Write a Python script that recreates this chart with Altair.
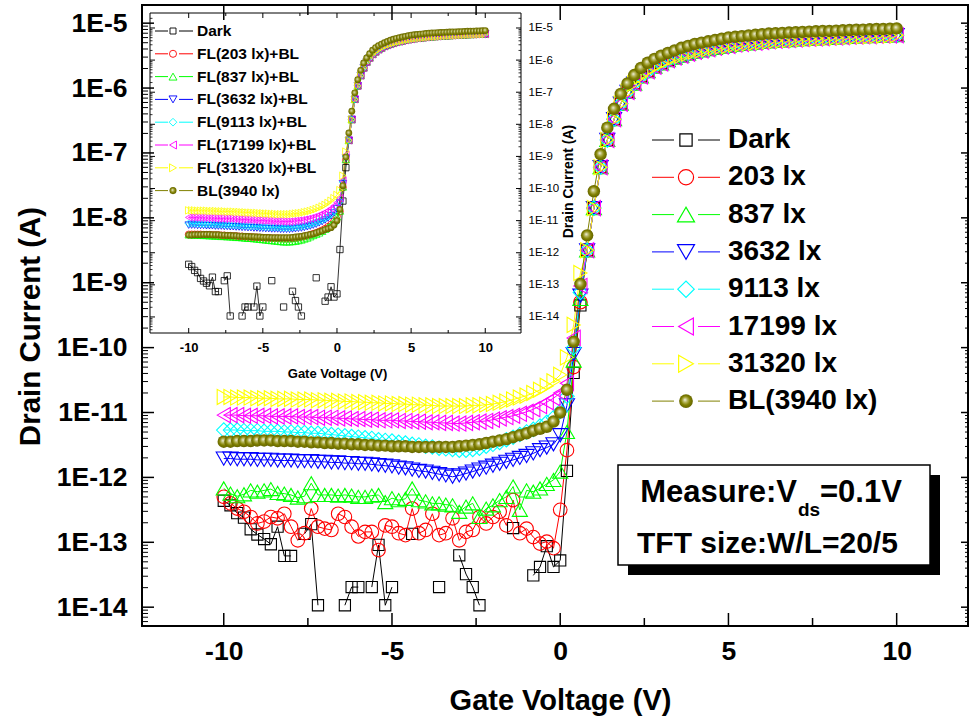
import altair as alt
import pandas as pd

# ---------------- data (log10 of drain current in A) ----------------
gate_v = [-10.0, -9.8, -9.6, -9.4, -9.2, -9.0, -8.8, -8.6, -8.4, -8.2,
          -8.0, -7.8, -7.6, -7.4, -7.2, -7.0, -6.8, -6.6, -6.4, -6.2,
          -6.0, -5.8, -5.6, -5.4, -5.2, -5.0, -4.8, -4.6, -4.4, -4.2,
          -4.0, -3.8, -3.6, -3.4, -3.2, -3.0, -2.8, -2.6, -2.4, -2.2,
          -2.0, -1.8, -1.6, -1.4, -1.2, -1.0, -0.8, -0.6, -0.4, -0.2,
          0.0, 0.2, 0.4, 0.6, 0.8, 1.0, 1.2, 1.4, 1.6, 1.8,
          2.0, 2.2, 2.4, 2.6, 2.8, 3.0, 3.2, 3.4, 3.6, 3.8,
          4.0, 4.2, 4.4, 4.6, 4.8, 5.0, 5.2, 5.4, 5.6, 5.8,
          6.0, 6.2, 6.4, 6.6, 6.8, 7.0, 7.2, 7.4, 7.6, 7.8,
          8.0, 8.2, 8.4, 8.6, 8.8, 9.0, 9.2, 9.4, 9.6, 9.8,
          10.0]

# on-state (0.8 V .. 10 V)
fl_on_log = [-8.50, -7.85, -7.22, -6.80, -6.48, -6.24, -6.06, -5.93, -5.82, -5.74,
             -5.67, -5.62, -5.57, -5.53, -5.50, -5.47, -5.44, -5.42, -5.40, -5.38,
             -5.36, -5.35, -5.33, -5.32, -5.31, -5.30, -5.29, -5.28, -5.27, -5.265,
             -5.26, -5.25, -5.245, -5.24, -5.235, -5.23, -5.225, -5.22, -5.215, -5.21,
             -5.205, -5.20, -5.20, -5.195, -5.19, -5.19, -5.185]
bl_on_log = [-8.27, -7.59, -7.02, -6.61, -6.32, -6.09, -5.93, -5.80, -5.69, -5.61,
             -5.55, -5.50, -5.46, -5.42, -5.38, -5.35, -5.32, -5.30, -5.28, -5.26,
             -5.24, -5.22, -5.21, -5.20, -5.19, -5.18, -5.17, -5.16, -5.155, -5.15,
             -5.145, -5.14, -5.135, -5.13, -5.125, -5.12, -5.12, -5.115, -5.11, -5.105,
             -5.10, -5.10, -5.095, -5.09, -5.09, -5.085, -5.08]

# off-state + threshold (-10 V .. 0.6 V), main panel
dark_off = [-12.36, -12.43, -12.55, -12.62, -12.80, -12.88, -12.95, -13.03, -12.76, -13.21,
            -13.21, None, -12.87, -12.72, -13.97, None, None, None, -13.97, -13.69,
            -13.69, None, -13.69, -13.04, -13.97, -13.69, None, None, -12.87, None,
            None, None, -13.69, None, None, -13.20, -13.49, -13.69, -13.97, None,
            None, None, None, -12.78, None, None, -13.51, -13.38, -13.06, -13.38,
            -13.28, -11.90, -10.39, -9.35]
red_off = [-12.30, -12.40, -12.48, -12.53, -12.61, -12.71, -12.68, -12.61, -12.63, -12.56,
           -12.76, -12.97, -12.86, -12.48, -12.76, -12.79, -12.81, -12.56, -12.61, -12.76,
           -12.91, -12.84, -12.84, -13.12, -12.74, -12.76, -12.86, -12.89, -12.48, -12.86,
           -12.81, -12.56, -12.89, -12.86, -12.63, -12.97, -12.84, -12.81, -12.61, -12.71,
           -12.61, -12.53, -12.74, -12.35, -12.86, -12.79, -12.92, -13.02, -12.99, -13.09,
           -12.50, -11.58, -10.30, -9.30]
green_off = [-12.17, -12.25, -12.29, -12.26, -12.20, -12.22, -12.20, -12.18, -12.24, -12.25,
             -12.27, -12.31, -12.29, -12.09, -12.27, -12.27, -12.27, -12.28, -12.27, -12.28,
             -12.30, -12.30, -12.28, -12.27, -12.38, -12.32, -12.35, -12.33, -12.17, -12.35,
             -12.37, -12.40, -12.40, -12.42, -12.43, -12.53, -12.45, -12.40, -12.61, -12.48,
             -12.43, -12.35, -12.30, -12.14, -12.50, -12.20, -12.22, -12.17, -12.10, -12.04,
             -11.91, -11.30, -10.20, -9.25]
blue_off = [-11.71, -11.71, -11.72, -11.72, -11.72, -11.73, -11.73, -11.73, -11.74, -11.74,
            -11.74, -11.75, -11.75, -11.75, -11.76, -11.76, -11.77, -11.77, -11.78, -11.78,
            -11.79, -11.79, -11.80, -11.81, -11.82, -11.83, -11.85, -11.86, -11.88, -11.90,
            -11.91, -11.93, -11.95, -11.97, -11.99, -11.97, -11.94, -11.91, -11.88, -11.85,
            -11.82, -11.79, -11.76, -11.73, -11.70, -11.67, -11.63, -11.58, -11.54, -11.49,
            -11.35, -10.89, -10.10, -9.20]
cyan_off = [-11.27, -11.27, -11.27, -11.28, -11.28, -11.28, -11.29, -11.29, -11.29, -11.30,
            -11.30, -11.31, -11.31, -11.32, -11.32, -11.33, -11.34, -11.35, -11.36, -11.37,
            -11.38, -11.39, -11.40, -11.42, -11.43, -11.44, -11.46, -11.47, -11.49, -11.50,
            -11.52, -11.53, -11.55, -11.56, -11.57, -11.58, -11.58, -11.57, -11.55, -11.52,
            -11.49, -11.46, -11.42, -11.38, -11.34, -11.30, -11.26, -11.21, -11.15, -11.08,
            -10.98, -10.75, -10.00, -9.15]
magenta_off = [-11.04, -11.04, -11.04, -11.05, -11.05, -11.05, -11.05, -11.06, -11.06, -11.06,
               -11.06, -11.07, -11.07, -11.07, -11.08, -11.08, -11.08, -11.09, -11.09, -11.10,
               -11.10, -11.11, -11.11, -11.12, -11.12, -11.12, -11.13, -11.13, -11.14, -11.14,
               -11.15, -11.15, -11.16, -11.16, -11.17, -11.17, -11.16, -11.15, -11.14, -11.13,
               -11.11, -11.09, -11.07, -11.05, -11.02, -10.99, -10.95, -10.90, -10.84, -10.78,
               -10.70, -10.55, -9.85, -9.05]
yellow_off = [-10.76, -10.76, -10.77, -10.77, -10.77, -10.78, -10.78, -10.78, -10.79, -10.79,
              -10.79, -10.80, -10.80, -10.80, -10.81, -10.81, -10.82, -10.82, -10.83, -10.83,
              -10.84, -10.84, -10.85, -10.85, -10.86, -10.86, -10.87, -10.87, -10.88, -10.88,
              -10.89, -10.89, -10.90, -10.90, -10.90, -10.90, -10.90, -10.89, -10.89, -10.88,
              -10.87, -10.85, -10.83, -10.80, -10.77, -10.74, -10.70, -10.65, -10.59, -10.52,
              -10.42, -10.15, -9.65, -8.85]
bl_off = [-11.45, -11.45, -11.44, -11.44, -11.44, -11.43, -11.43, -11.43, -11.44, -11.44,
          -11.44, -11.45, -11.45, -11.46, -11.46, -11.47, -11.47, -11.48, -11.48, -11.49,
          -11.49, -11.50, -11.50, -11.51, -11.51, -11.52, -11.52, -11.52, -11.53, -11.53,
          -11.53, -11.53, -11.53, -11.53, -11.53, -11.52, -11.51, -11.50, -11.49, -11.47,
          -11.45, -11.43, -11.41, -11.38, -11.35, -11.32, -11.28, -11.25, -11.22, -11.14,
          -11.00, -10.65, -9.91, -9.02]

# inset (FL + BL), off-state + threshold (-10 V .. 0.6 V)
ins_red_off = [-11.43, -11.43, -11.43, -11.43, -11.43, -11.44, -11.44, -11.44, -11.45, -11.45, -11.45,
               -11.46, -11.46, -11.47, -11.47, -11.48, -11.48, -11.49, -11.49, -11.50, -11.51, -11.51, -11.52, -11.52, -11.53, -11.53,
               -11.54, -11.54, -11.55, -11.55, -11.55, -11.56, -11.56, -11.56, -11.56, -11.55, -11.54, -11.53, -11.51, -11.49, -11.47,
               -11.44, -11.41, -11.38, -11.34, -11.30, -11.25, -11.19, -11.12, -11.02, -10.87,
               -10.72, -9.97, -9.12]
ins_green_off = [-11.44, -11.44, -11.45, -11.45, -11.45, -11.46, -11.46, -11.47, -11.47, -11.48, -11.48,
                 -11.49, -11.49, -11.50, -11.50, -11.51, -11.52, -11.52, -11.53, -11.54, -11.55, -11.55, -11.56, -11.57, -11.58, -11.59,
                 -11.60, -11.61, -11.62, -11.63, -11.64, -11.65, -11.66, -11.66, -11.66, -11.65, -11.64, -11.62, -11.60, -11.57, -11.54,
                 -11.50, -11.46, -11.42, -11.38, -11.33, -11.27, -11.20, -11.12, -11.02, -10.88,
                 -10.70, -9.95, -9.10]
ins_blue_off = [-11.14, -11.14, -11.14, -11.15, -11.15, -11.15, -11.16, -11.16, -11.16, -11.17, -11.17,
                -11.17, -11.18, -11.18, -11.19, -11.19, -11.20, -11.20, -11.21, -11.21, -11.22, -11.22, -11.23, -11.23, -11.24, -11.24,
                -11.25, -11.25, -11.26, -11.26, -11.26, -11.27, -11.27, -11.27, -11.27, -11.26, -11.25, -11.24, -11.23, -11.21, -11.19,
                -11.17, -11.14, -11.11, -11.07, -11.03, -10.98, -10.92, -10.85, -10.76, -10.63,
                -10.45, -9.85, -9.05]
ins_cyan_off = [-11.09, -11.09, -11.09, -11.10, -11.10, -11.10, -11.11, -11.11, -11.11, -11.12, -11.12,
                -11.12, -11.13, -11.13, -11.14, -11.14, -11.15, -11.15, -11.16, -11.16, -11.17, -11.17, -11.18, -11.18, -11.19, -11.19,
                -11.20, -11.20, -11.21, -11.21, -11.21, -11.22, -11.22, -11.22, -11.22, -11.21, -11.20, -11.19, -11.18, -11.16, -11.14,
                -11.12, -11.09, -11.06, -11.02, -10.98, -10.93, -10.87, -10.80, -10.71, -10.58,
                -10.40, -9.80, -9.00]
ins_magenta_off = [-10.90, -10.90, -10.90, -10.91, -10.91, -10.91, -10.92, -10.92, -10.92, -10.93, -10.93,
                   -10.93, -10.94, -10.94, -10.94, -10.95, -10.95, -10.96, -10.96, -10.97, -10.97, -10.98, -10.98, -10.99, -10.99, -11.00,
                   -11.00, -11.01, -11.01, -11.02, -11.02, -11.02, -11.03, -11.03, -11.03, -11.02, -11.01, -11.00, -10.99, -10.97, -10.95,
                   -10.93, -10.90, -10.87, -10.83, -10.79, -10.74, -10.69, -10.62, -10.54, -10.44,
                   -10.30, -9.75, -8.95]
ins_yellow_off = [-10.68, -10.68, -10.68, -10.69, -10.69, -10.69, -10.69, -10.70, -10.70, -10.70, -10.71,
                  -10.71, -10.71, -10.72, -10.72, -10.72, -10.73, -10.73, -10.74, -10.74, -10.75, -10.75, -10.76, -10.76, -10.77, -10.77,
                  -10.78, -10.78, -10.79, -10.79, -10.80, -10.80, -10.80, -10.80, -10.80, -10.79, -10.78, -10.77, -10.76, -10.74, -10.72,
                  -10.70, -10.67, -10.64, -10.60, -10.56, -10.51, -10.45, -10.38, -10.30, -10.20,
                  -10.05, -9.60, -8.85]

keys = ["dark", "fl203", "fl837", "fl3632", "fl9113", "fl17199", "fl31320", "bl"]
main_labels = ["Dark", "203 lx", "837 lx", "3632 lx", "9113 lx", "17199 lx", "31320 lx", "BL(3940 lx)"]
inset_labels = ["Dark", "FL(203 lx)+BL", "FL(837 lx)+BL", "FL(3632 lx)+BL", "FL(9113 lx)+BL",
                "FL(17199 lx)+BL", "FL(31320 lx)+BL", "BL(3940 lx)"]
colors = ["#000000", "#ff0000", "#00ff00", "#0000ff", "#00ffff", "#ff00ff", "#ffff00", "#808000"]
shapes = ["square", "circle", "triangle-up", "triangle-down", "diamond", "triangle-left", "triangle-right", "circle"]

main_log = {"dark": dark_off + fl_on_log, "fl203": red_off + fl_on_log, "fl837": green_off + fl_on_log,
            "fl3632": blue_off + fl_on_log, "fl9113": cyan_off + fl_on_log, "fl17199": magenta_off + fl_on_log,
            "fl31320": yellow_off + fl_on_log, "bl": bl_off + bl_on_log}
inset_log = {"dark": main_log["dark"], "fl203": ins_red_off + fl_on_log, "fl837": ins_green_off + fl_on_log,
             "fl3632": ins_blue_off + fl_on_log, "fl9113": ins_cyan_off + fl_on_log,
             "fl17199": ins_magenta_off + fl_on_log, "fl31320": ins_yellow_off + fl_on_log,
             "bl": main_log["bl"]}
for d in (main_log, inset_log):
    for k, v in d.items():
        assert len(v) == len(gate_v), (k, len(v))


def make_df(logs):
    rows = []
    for k in keys:
        for v, e in zip(gate_v, logs[k]):
            rows.append({"V": v, "I": (10.0 ** e) if e is not None else None, "key": k})
    return pd.DataFrame(rows)


df_main = make_df(main_log)
df_ins = make_df(inset_log)

# ---------------- styling / layout ----------------
F = "Liberation Sans"
W, H = 826, 621

xs_main = alt.Scale(domain=[-12.43, 12.12], nice=False, zero=False)
ys_main = alt.Scale(type="log", domain=[10 ** -14.29, 10 ** -4.72], nice=False)
IX0, IX1, IY0, IY1 = 8, 379, 8, 328
xs_ins = alt.Scale(domain=[-12.61, 12.41], range=[IX0, IX1], nice=False, zero=False)
ys_ins = alt.Scale(type="log", domain=[10 ** -14.50, 10 ** -4.533], range=[IY1, IY0], nice=False)

color_scale = alt.Scale(domain=keys, range=colors)

olive_grad = alt.RadialGradient(
    gradient="radial", x1=0.42, y1=0.40, r1=0, x2=0.5, y2=0.5, r2=0.55,
    stops=[alt.GradientStop(color="#f2f2e6", offset=0.0),
           alt.GradientStop(color="#b4b45a", offset=0.3),
           alt.GradientStop(color="#808000", offset=0.6),
           alt.GradientStop(color="#5e5e00", offset=1.0)])

decades_main = [10.0 ** d for d in range(-14, -4)]
minors_main = [m * 10.0 ** d for d in range(-15, -4) for m in range(2, 10)
               if 10 ** -14.29 < m * 10.0 ** d < 10 ** -4.72]
minors_ins = [m * 10.0 ** d for d in range(-15, -4) for m in range(2, 10)
              if 10 ** -14.50 < m * 10.0 ** d < 10 ** -4.533]
x_major = [-10, -5, 0, 5, 10]
x_minor = [-7.5, -2.5, 2.5, 7.5]
df_dec = pd.DataFrame({"I": decades_main})
df_min_main = pd.DataFrame({"I": minors_main})
df_min_ins = pd.DataFrame({"I": minors_ins})
df_xmaj = pd.DataFrame({"V": x_major})
df_xmin = pd.DataFrame({"V": x_minor})

log_label = "'1E' + round(log(datum.value) / LN10)"

x_axis_main = alt.Axis(values=x_major, labelExpr="'' + datum.value", ticks=False, tickSize=0,
                       domain=False, grid=False, labelFont=F, labelFontSize=26.5, labelFontWeight="bold",
                       labelColor="black", labelPadding=12, labelOverlap=False,
                       title="Gate Voltage (V)", titleFont=F, titleFontSize=29, titleFontWeight="bold",
                       titleColor="black", titleX=418, titleY=74, titleAlign="center",
                       titleBaseline="middle", titleAnchor="middle")
y_axis_main = alt.Axis(values=decades_main, labelExpr=log_label, ticks=False, tickSize=0,
                       domain=False, grid=False, labelFont=F, labelFontSize=26.5, labelFontWeight="bold",
                       labelColor="black", labelPadding=15, labelOverlap=False,
                       title="Drain Current (A)", titleFont=F, titleFontSize=29.5, titleFontWeight="bold",
                       titleColor="black", titleAngle=270, titleX=-112, titleY=321, titleAlign="center",
                       titleBaseline="middle")
x_axis_ins = alt.Axis(orient="bottom", offset=IY1 - H, values=x_major, labelExpr="'' + datum.value",
                      ticks=False, tickSize=0, domain=False, grid=False, labelFont=F, labelFontSize=13,
                      labelFontWeight="bold", labelColor="black", labelPadding=8, labelOverlap=False,
                      title="Gate Voltage (V)", titleFont=F, titleFontSize=13, titleFontWeight="bold",
                      titleColor="black", titleX=195, titleY=40, titleAlign="center", titleBaseline="middle")
y_axis_ins = alt.Axis(orient="right", offset=IX1 - W, values=decades_main, labelExpr=log_label,
                      ticks=False, tickSize=0, domain=False, grid=False, labelFont=F, labelFontSize=11.5,
                      labelColor="black", labelPadding=7, labelOverlap=False,
                      title="Drain Current (A)", titleFont=F, titleFontSize=14, titleFontWeight="bold",
                      titleColor="black", titleAngle=270, titleX=47, titleY=176, titleAlign="center",
                      titleBaseline="middle")


def hticks(df, ys, x0, x1, sw=1.2):
    return alt.Chart(df).mark_rule(color="black", strokeWidth=sw).encode(
        y=alt.Y("I:Q", scale=ys), x=alt.value(x0), x2=alt.value(x1))


def vticks(df, xs, y0, y1, sw=1.2):
    return alt.Chart(df).mark_rule(color="black", strokeWidth=sw).encode(
        x=alt.X("V:Q", scale=xs), y=alt.value(y0), y2=alt.value(y1))


def data_layers(df, xs, ys, xax, yax, sizes, sw_line, sw_pt):
    out = [alt.Chart(df).mark_line(strokeWidth=sw_line, invalid="break-paths-filter-domains").encode(
        x=alt.X("V:Q", scale=xs, axis=xax),
        y=alt.Y("I:Q", scale=ys, axis=yax),
        color=alt.Color("key:N", scale=color_scale, legend=None),
        detail="key:N")]
    for k, c, s, sz in zip(keys, colors, shapes, sizes):
        sub = df[df.key == k]
        if k == "bl":
            mk = alt.Chart(sub).mark_point(filled=True, fill=olive_grad, shape="circle",
                                           size=sz, opacity=1, strokeWidth=0)
        else:
            mk = alt.Chart(sub).mark_point(filled=False, stroke=c, shape=s, size=sz,
                                           strokeWidth=sw_pt, opacity=1)
        out.append(mk.encode(x=alt.X("V:Q", scale=xs), y=alt.Y("I:Q", scale=ys)))
    return out


main_child = alt.layer(
    *data_layers(df_main, xs_main, ys_main, x_axis_main, y_axis_main,
                 [125, 185, 230, 230, 210, 230, 230, 155], 1.0, 1.1),
    hticks(df_dec, ys_main, 0, 12, 1.5),
    hticks(df_min_main, ys_main, 0, 6, 1.0),
    hticks(df_dec, ys_main, W, W - 7, 1.5),
    hticks(df_min_main, ys_main, W, W - 3, 1.0),
    vticks(df_xmaj, xs_main, H, H - 13, 1.5),
    vticks(df_xmin, xs_main, H, H - 8, 1.5),
    vticks(df_xmaj, xs_main, 0, 15, 1.5),
    vticks(df_xmin, xs_main, 0, 10, 1.5),
)

inset_child = alt.layer(
    *data_layers(df_ins, xs_ins, ys_ins, x_axis_ins, y_axis_ins,
                 [40, 46, 56, 56, 50, 56, 56, 46], 0.8, 0.8),
    hticks(df_dec, ys_ins, IX0, IX0 + 5, 1.0),
    hticks(df_min_ins, ys_ins, IX0, IX0 + 2.5, 0.8),
    hticks(df_dec, ys_ins, IX1, IX1 - 5, 1.0),
    hticks(df_min_ins, ys_ins, IX1, IX1 - 2.5, 0.8),
    vticks(df_xmaj, xs_ins, IY1, IY1 - 5, 1.0),
    vticks(df_xmin, xs_ins, IY1, IY1 - 3, 1.0),
    vticks(df_xmaj, xs_ins, IY0, IY0 + 5, 1.0),
    vticks(df_xmin, xs_ins, IY0, IY0 + 3, 1.0),
)

# ---------------- overlay (legends, inset frame, annotation box) ----------------
leg_main = pd.DataFrame({"key": keys, "label": main_labels, "row": list(range(8))})
leg_main["py"] = 135 + 37.3 * leg_main["row"]
leg_ins = pd.DataFrame({"key": keys, "label": inset_labels, "row": list(range(8))})
leg_ins["py"] = 26 + 22.8 * leg_ins["row"]


def legend_layers(df, segs, sx, tx, sizes, fs, sw_line, sw_pt):
    ypx = alt.Y("py:Q", scale=None, axis=None)
    col = alt.Color("key:N", scale=color_scale, legend=None)
    out = []
    for a, b in segs:
        out.append(alt.Chart(df).mark_rule(strokeWidth=sw_line).encode(
            x=alt.value(a), x2=alt.value(b), y=ypx, color=col))
    for k, c, s, sz in zip(keys, colors, shapes, sizes):
        sub = df[df.key == k]
        if k == "bl":
            mk = alt.Chart(sub).mark_point(filled=True, fill=olive_grad, shape="circle",
                                           size=sz, opacity=1, strokeWidth=0)
        else:
            mk = alt.Chart(sub).mark_point(filled=False, stroke=c, shape=s, size=sz,
                                           strokeWidth=sw_pt, opacity=1)
        out.append(mk.encode(x=alt.value(sx), y=ypx))
    out.append(alt.Chart(df).mark_text(align="left", baseline="middle", font=F, fontSize=fs,
                                       fontWeight="bold", color="black").encode(
        x=alt.value(tx), y=ypx, text="label:N"))
    return out


one = pd.DataFrame({"a": [0]})
inset_frame = alt.Chart(one).mark_rect(filled=False, stroke="black", strokeWidth=1).encode(
    x=alt.value(IX0), x2=alt.value(IX1), y=alt.value(IY0), y2=alt.value(IY1))
box_shadow = alt.Chart(one).mark_rect(color="black").encode(
    x=alt.value(486), x2=alt.value(798), y=alt.value(470), y2=alt.value(570))
box = alt.Chart(one).mark_rect(fill="white", stroke="black", strokeWidth=1.5).encode(
    x=alt.value(476), x2=alt.value(788), y=alt.value(460), y2=alt.value(560))
t1 = alt.Chart(one).mark_text(text="Measure:V", align="right", baseline="alphabetic", font=F,
                              fontSize=31, fontWeight="bold", color="black").encode(
    x=alt.value(655), y=alt.value(497))
t1s = alt.Chart(one).mark_text(text="ds", align="left", baseline="alphabetic", font=F,
                               fontSize=19, fontWeight="bold", color="black").encode(
    x=alt.value(656), y=alt.value(511))
t1b = alt.Chart(one).mark_text(text="=0.1V", align="left", baseline="alphabetic", font=F,
                               fontSize=31, fontWeight="bold", color="black").encode(
    x=alt.value(678), y=alt.value(497))
t2 = alt.Chart(one).mark_text(text="TFT size:W/L=20/5", align="left", baseline="alphabetic", font=F,
                              fontSize=30, fontWeight="bold", color="black").encode(
    x=alt.value(495), y=alt.value(548))

overlay = alt.layer(
    inset_frame,
    *legend_layers(leg_ins, ((13, 26), (37, 51)), 31, 55,
                   [36, 50, 64, 64, 60, 64, 64, 50], 15.5, 1.0, 0.9),
    *legend_layers(leg_main, ((510, 532), (556, 578)), 544, 586,
                   [150, 230, 290, 290, 270, 290, 290, 190], 28, 1.0, 1.2),
    box_shadow, box, t1, t1s, t1b, t2,
)

chart = alt.layer(main_child, inset_child, overlay).resolve_scale(
    x="independent", y="independent"
).resolve_axis(x="independent", y="independent").properties(
    width=W, height=H,
    padding={"left": 142, "top": 5, "right": 1, "bottom": 93},
    autosize=alt.AutoSizeParams(type="none"),
    background="white",
).configure_view(stroke="black", strokeWidth=2)

chart.save("out.html", embed_options={"renderer": "svg", "actions": False})
